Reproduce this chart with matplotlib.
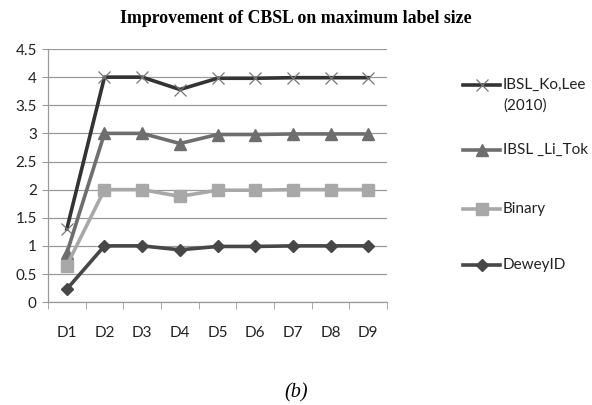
import matplotlib
matplotlib.use('Agg')
import matplotlib.pyplot as plt
from matplotlib.lines import Line2D
import numpy as np

## data
categories = ['D1', 'D2', 'D3', 'D4', 'D5', 'D6', 'D7', 'D8', 'D9']
ko_lee = [1.3, 4.0, 4.0, 3.78, 3.98, 3.98, 3.99, 3.99, 3.99]
li_tok = [0.87, 3.0, 3.0, 2.82, 2.98, 2.98, 2.99, 2.99, 2.99]
binary = [0.65, 2.0, 2.0, 1.88, 1.99, 1.99, 2.0, 2.0, 2.0]
dewey = [0.23, 1.0, 1.0, 0.93, 0.99, 0.99, 1.0, 1.0, 1.0]
series_names = [['IBSL_Ko,Lee', '(2010)'], ['IBSL _Li_Tok'], ['Binary'], ['DeweyID']]
yticks = [0, 0.5, 1, 1.5, 2, 2.5, 3, 3.5, 4, 4.5]

plt.rcParams['font.family'] = ['Lato', 'DejaVu Sans']

fig = plt.figure(figsize=(5.92, 4.05), dpi=100)
ax = fig.add_axes([0.081, 0.254, 0.573, 0.625])

colors = ['#333333', '#6e6e6e', '#a8a8a8', '#474747']
markers = [
    dict(marker='x', ms=9, mew=0.9, mec='#777777'),
    dict(marker='^', ms=8, mfc='#6e6e6e', mec='#6e6e6e'),
    dict(marker='s', ms=8, mfc='#a8a8a8', mec='#a8a8a8'),
    dict(marker='D', ms=6, mfc='#474747', mec='#474747'),
]

x = np.arange(len(categories))
for vals, c, m in zip([ko_lee, li_tok, binary, dewey], colors, markers):
    ax.plot(x, vals, lw=2.6, color=c, zorder=3, **m)

ax.set_xlim(-0.5, len(categories) - 0.5)
ax.set_ylim(0, 4.5)
ax.set_yticks(yticks)
ax.set_yticklabels(['0', '0.5', '1', '1.5', '2', '2.5', '3', '3.5', '4', '4.5'])
ax.yaxis.grid(True, color='#9a9a9a', lw=0.9)
ax.set_axisbelow(True)

ax.set_xticks(x)
ax.set_xticklabels(categories)
ax.set_xticks(np.arange(-0.5, len(categories)), minor=True)
ax.tick_params(axis='x', which='major', length=0, pad=17, labelsize=11, colors='#222222')
ax.tick_params(axis='x', which='minor', length=5, color='#9a9a9a')
ax.tick_params(axis='y', length=4, color='#9a9a9a', labelcolor='#222222', labelsize=11, pad=4)

for s in ['top', 'right']:
    ax.spines[s].set_visible(False)
for s in ['left', 'bottom']:
    ax.spines[s].set_color('#9a9a9a')
    ax.spines[s].set_linewidth(0.9)

fig.text(0.5, 0.955, 'Improvement of CBSL on maximum label size', ha='center', va='center',
         fontsize=12.8, fontweight='bold', family='Liberation Serif')
fig.text(0.5, 0.03, '(b)', ha='center', va='center', fontsize=14.5,
         style='italic', family='Liberation Serif')

# legend drawn by hand so the handle sits on the first text line
W, H = 592.0, 405.0
leg_y = [85, 150, 209, 265]
for lines, c, m, yy in zip(series_names, colors, markers, leg_y):
    yf = 1 - yy / H
    fig.add_artist(Line2D([463 / W, 500 / W], [yf, yf], lw=2.6, color=c,
                          transform=fig.transFigure))
    fig.add_artist(Line2D([481.5 / W], [yf], lw=0, transform=fig.transFigure, **m))
    for i, txt in enumerate(lines):
        fig.text(503 / W, 1 - (yy + 21 * i) / H, txt, ha='left', va='center',
                 fontsize=11, color='#222222')

plt.savefig('out.png', dpi=100)
